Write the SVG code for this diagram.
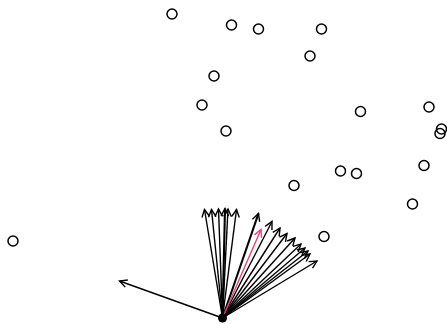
<svg xmlns="http://www.w3.org/2000/svg" width="447" height="324" viewBox="0 0 447 324">
<defs>
<style>
.pt{fill:none;stroke:#000;stroke-width:1.5}
.ar{fill:none;stroke:#000;stroke-width:1.4;marker-end:url(#h)}
.bd{stroke-width:2.1}
.rd{stroke:#e0457b;marker-end:url(#hr)}
</style>
<marker id="h" markerUnits="userSpaceOnUse" markerWidth="16" markerHeight="16" refX="0" refY="0" viewBox="-10 -8 12 16" orient="auto">
<path d="M-7.5,-3.8 L0,0 L-7.5,3.8" fill="none" stroke="#000" stroke-width="1.4"/>
</marker>
<marker id="hr" markerUnits="userSpaceOnUse" markerWidth="16" markerHeight="16" refX="0" refY="0" viewBox="-10 -8 12 16" orient="auto">
<path d="M-7.5,-3.8 L0,0 L-7.5,3.8" fill="none" stroke="#e0457b" stroke-width="1.4"/>
</marker>
</defs>
<rect width="447" height="324" fill="#fff"/>
<g id="points">
<circle class="pt" cx="172" cy="14" r="5"/>
<circle class="pt" cx="231.5" cy="25" r="5"/>
<circle class="pt" cx="258.5" cy="29" r="5"/>
<circle class="pt" cx="321.5" cy="29" r="5"/>
<circle class="pt" cx="310" cy="56" r="5"/>
<circle class="pt" cx="214" cy="76" r="5"/>
<circle class="pt" cx="202" cy="105" r="5"/>
<circle class="pt" cx="226" cy="131" r="5"/>
<circle class="pt" cx="360.5" cy="111.5" r="5"/>
<circle class="pt" cx="429" cy="107" r="5"/>
<circle class="pt" cx="441.5" cy="129" r="5"/>
<circle class="pt" cx="440" cy="133.5" r="5"/>
<circle class="pt" cx="424" cy="165.5" r="5"/>
<circle class="pt" cx="412.5" cy="204" r="5"/>
<circle class="pt" cx="356.5" cy="173.5" r="5"/>
<circle class="pt" cx="340.5" cy="171" r="5"/>
<circle class="pt" cx="294" cy="185.5" r="5"/>
<circle class="pt" cx="324" cy="236.5" r="5"/>
<circle class="pt" cx="13" cy="241" r="5"/>
</g>
<g id="connectors">
<line class="ar" x1="222.5" y1="318" x2="119.5" y2="281"/>
<line class="ar" x1="222.5" y1="318" x2="204.5" y2="209.5"/>
<line class="ar" x1="222.5" y1="318" x2="211.5" y2="209.5"/>
<line class="ar" x1="222.5" y1="318" x2="218.5" y2="209"/>
<line class="ar bd" x1="222.5" y1="318" x2="225" y2="208.5"/>
<line class="ar" x1="222.5" y1="318" x2="228" y2="209"/>
<line class="ar" x1="222.5" y1="318" x2="236.5" y2="209.5"/>
<line class="ar bd" x1="222.5" y1="318" x2="258.5" y2="213.5"/>
<line class="ar" x1="222.5" y1="318" x2="272" y2="221.5"/>
<line class="ar" x1="222.5" y1="318" x2="280" y2="228"/>
<line class="ar" x1="222.5" y1="318" x2="287" y2="233.5"/>
<line class="ar" x1="222.5" y1="318" x2="295" y2="238"/>
<line class="ar" x1="222.5" y1="318" x2="301" y2="244"/>
<line class="ar" x1="222.5" y1="318" x2="305" y2="248"/>
<line class="ar" x1="222.5" y1="318" x2="308" y2="251"/>
<line class="ar" x1="222.5" y1="318" x2="310" y2="254"/>
<line class="ar" x1="222.5" y1="318" x2="317" y2="261"/>
<line class="ar rd" x1="222.5" y1="318" x2="261" y2="229.5"/>
</g>
<g id="origin">
<circle cx="222.5" cy="318" r="4.5" fill="#000"/>
</g>
</svg>
